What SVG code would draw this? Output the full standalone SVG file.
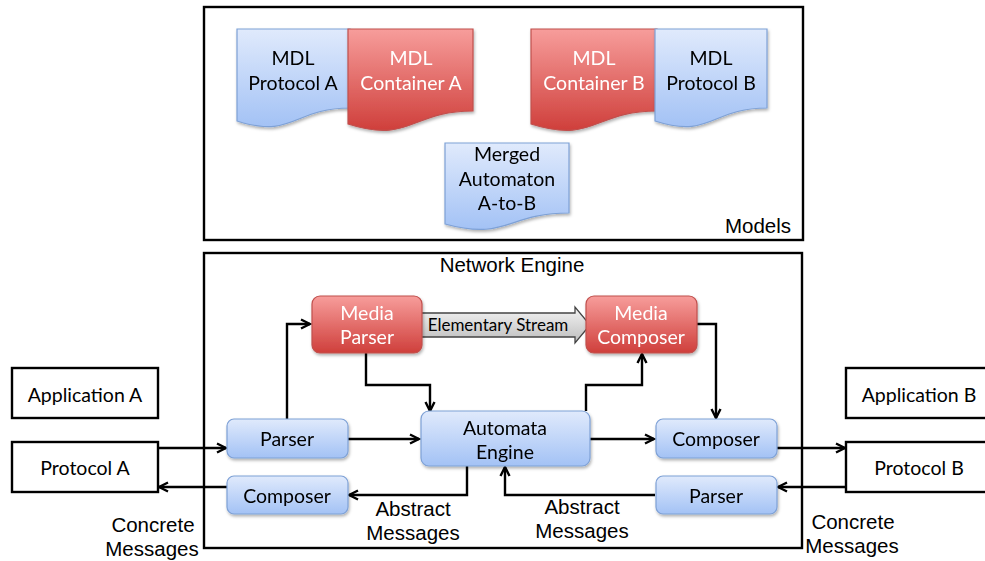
<svg xmlns="http://www.w3.org/2000/svg" width="985" height="561" viewBox="0 0 985 561">
<defs>
<linearGradient id="gBlue" x1="0" y1="0" x2="0" y2="1">
<stop offset="0" stop-color="#e0eafc"/>
<stop offset="1" stop-color="#a3c2f5"/>
</linearGradient>
<linearGradient id="gRed" x1="0" y1="0" x2="0" y2="1">
<stop offset="0" stop-color="#f79d9b"/>
<stop offset="1" stop-color="#cf3f3b"/>
</linearGradient>
<linearGradient id="gGray" x1="0" y1="0" x2="0" y2="1">
<stop offset="0" stop-color="#f4f4f4"/>
<stop offset="1" stop-color="#bdbdbd"/>
</linearGradient>
<filter id="sh" x="-10%" y="-10%" width="130%" height="140%">
<feDropShadow dx="1" dy="2" stdDeviation="1.5" flood-color="#000" flood-opacity="0.3"/>
</filter>
<marker id="arr" viewBox="0 0 12 12" refX="10.5" refY="6" markerWidth="12" markerHeight="12" markerUnits="userSpaceOnUse" orient="auto">
<path d="M1.5,1.5 L10.5,6 L1.5,10.5" fill="none" stroke="#000" stroke-width="2.4"/>
</marker>
<style>
.frame{fill:#fff;stroke:#000;stroke-width:2.4}
.box{fill:#fff;stroke:#000;stroke-width:2.4}
.blue{fill:url(#gBlue);stroke:#7ea1d6;stroke-width:1.2}
.red{fill:url(#gRed);stroke:#c0504d;stroke-width:1.2}
.t{font-family:Lato,"Open Sans",sans-serif;font-size:19.5px;text-anchor:middle;fill:#000}
.w{fill:#fff}
.a{font-family:"Liberation Sans",Arial,sans-serif;font-size:20.5px;text-anchor:middle;fill:#000}
.c{fill:none;stroke:#000;stroke-width:2.4;marker-end:url(#arr)}
</style>
</defs>
<rect width="985" height="561" fill="#fff"/>

<g id="models">
<rect class="frame" x="204" y="7" width="599" height="233"/>
<text class="a" x="758" y="233">Models</text>
</g>

<g id="mdl-protocol-a" filter="url(#sh)">
<path class="blue" d="M237,29 H350 V108 C293.5,108 293.5,139 237,121 Z"/>
<text class="t" x="293" y="65">MDL</text>
<text class="t" x="293" y="90">Protocol A</text>
</g>
<g id="mdl-container-a" filter="url(#sh)">
<path class="red" d="M348,29 H473 V111 C410.5,111 410.5,144 348,124 Z"/>
<text class="t w" x="411" y="65">MDL</text>
<text class="t w" x="411" y="90">Container A</text>
</g>
<g id="mdl-container-b" filter="url(#sh)">
<path class="red" d="M531,29 H657 V111 C594,111 594,144 531,124 Z"/>
<text class="t w" x="594" y="65">MDL</text>
<text class="t w" x="594" y="90">Container B</text>
</g>
<g id="mdl-protocol-b" filter="url(#sh)">
<path class="blue" d="M655,29 H767 V108 C711,108 711,139 655,121 Z"/>
<text class="t" x="711" y="65">MDL</text>
<text class="t" x="711" y="90">Protocol B</text>
</g>
<g id="merged-automaton" filter="url(#sh)">
<path class="blue" d="M445,143 H569 V213 C507,213 507,241 445,224 Z"/>
<text class="t" x="507" y="161">Merged</text>
<text class="t" x="507" y="186">Automaton</text>
<text class="t" x="507" y="210">A-to-B</text>
</g>

<g id="network-engine">
<rect class="frame" x="204" y="253" width="598" height="295"/>
<text class="a" x="512" y="272">Network Engine</text>
</g>

<g id="application-a">
<rect class="box" x="12" y="368" width="146" height="50"/>
<text class="t" x="85" y="402">Application A</text>
</g>
<g id="protocol-a">
<rect class="box" x="12" y="442" width="146" height="50"/>
<text class="t" x="85" y="475">Protocol A</text>
</g>
<g id="application-b">
<rect class="box" x="846" y="368" width="145" height="50"/>
<text class="t" x="919" y="402">Application B</text>
</g>
<g id="protocol-b">
<rect class="box" x="846" y="442" width="145" height="50"/>
<text class="t" x="919" y="475">Protocol B</text>
</g>

<g id="connectors">
<path class="c" d="M158,448 H226"/>
<path class="c" d="M227,487 H159"/>
<path class="c" d="M348,439 H419"/>
<path class="c" d="M287,420 V324 H310"/>
<path class="c" d="M366,353 V385 H430 V411"/>
<path class="c" d="M586,411 V385 H642 V354"/>
<path class="c" d="M697,324 H716 V418"/>
<path class="c" d="M590,439 H654"/>
<path class="c" d="M777,448 H845"/>
<path class="c" d="M846,487 H778"/>
<path class="c" d="M655,495 H505 V467"/>
<path class="c" d="M467,466 V495 H349"/>
</g>

<g id="elementary-stream">
<path d="M415,313 H575 V307 L590,325 L575,343 V337 H415 Z" fill="url(#gGray)" stroke="#444" stroke-width="1.3"/>
<text class="t" x="498" y="331" style="font-size:17px">Elementary Stream</text>
</g>

<g id="media-parser" filter="url(#sh)">
<rect class="red" x="312" y="296" width="110" height="57" rx="8"/>
<text class="t w" x="367" y="320">Media</text>
<text class="t w" x="367" y="344">Parser</text>
</g>
<g id="media-composer" filter="url(#sh)">
<rect class="red" x="586" y="296" width="111" height="57" rx="8"/>
<text class="t w" x="641" y="320">Media</text>
<text class="t w" x="641" y="344">Composer</text>
</g>

<g id="parser-a" filter="url(#sh)">
<rect class="blue" x="227" y="419" width="121" height="39" rx="7"/>
<text class="t" x="287" y="446">Parser</text>
</g>
<g id="composer-a" filter="url(#sh)">
<rect class="blue" x="227" y="476" width="121" height="38" rx="7"/>
<text class="t" x="287" y="503">Composer</text>
</g>
<g id="automata-engine" filter="url(#sh)">
<rect class="blue" x="421" y="411" width="169" height="55" rx="8"/>
<text class="t" x="505" y="435">Automata</text>
<text class="t" x="505" y="459">Engine</text>
</g>
<g id="composer-b" filter="url(#sh)">
<rect class="blue" x="656" y="419" width="121" height="39" rx="7"/>
<text class="t" x="716" y="446">Composer</text>
</g>
<g id="parser-b" filter="url(#sh)">
<rect class="blue" x="656" y="476" width="121" height="38" rx="7"/>
<text class="t" x="716" y="503">Parser</text>
</g>

<g id="labels">
<text class="a" x="413" y="516">Abstract</text>
<text class="a" x="413" y="540">Messages</text>
<text class="a" x="582" y="514">Abstract</text>
<text class="a" x="582" y="538">Messages</text>
<text class="a" x="153" y="532">Concrete</text>
<text class="a" x="152" y="556">Messages</text>
<text class="a" x="853" y="529">Concrete</text>
<text class="a" x="852" y="553">Messages</text>
</g>
</svg>
